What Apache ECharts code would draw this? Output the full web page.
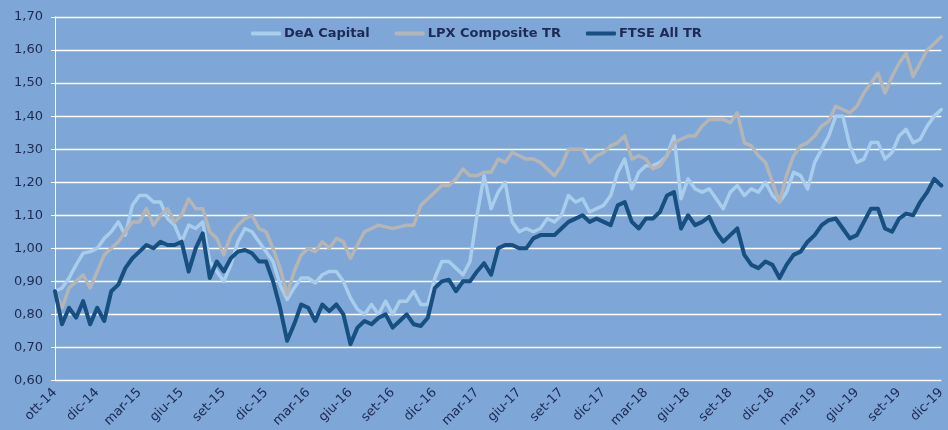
<!DOCTYPE html>
<html>
<head>
<meta charset="utf-8">
<script src="https://cdn.jsdelivr.net/npm/echarts@6/dist/echarts.min.js"></script>
<style>
  html, body { margin: 0; padding: 0; background: #7EA6D6; }
  #chart { width: 948px; height: 430px; }
</style>
</head>
<body>
<div id="chart"></div>
<script>
// etichette dell'asse x (una ogni 6 punti, cioè un trimestre)
const tickLabels = ['ott-14', 'dic-14', 'mar-15', 'giu-15', 'set-15', 'dic-15', 'mar-16', 'giu-16',
  'set-16', 'dic-16', 'mar-17', 'giu-17', 'set-17', 'dic-17', 'mar-18', 'giu-18', 'set-18',
  'dic-18', 'mar-19', 'giu-19', 'set-19', 'dic-19'];
const pointsPerTick = 6;

const seriesNames = ['DeA Capital', 'LPX Composite TR', 'FTSE All TR'];

// valori, un punto ogni ~2 settimane
const deaCapital = [
  0.87, 0.88, 0.91, 0.95, 0.985, 0.99, 1.00, 1.03, 1.05, 1.08, 1.04, 1.13,
  1.16, 1.16, 1.14, 1.14, 1.09, 1.07, 1.02, 1.07, 1.06, 1.08, 0.96, 0.93,
  0.90, 0.95, 1.02, 1.06, 1.05, 1.02, 0.99, 0.96, 0.89, 0.845, 0.88, 0.91,
  0.91, 0.895, 0.92, 0.93, 0.93, 0.90, 0.85, 0.815, 0.80, 0.83, 0.80, 0.84,
  0.80, 0.84, 0.84, 0.87, 0.83, 0.83, 0.91, 0.96, 0.96, 0.94, 0.92, 0.96,
  1.10, 1.22, 1.12, 1.17, 1.20, 1.08, 1.05, 1.06, 1.05, 1.06, 1.09, 1.08,
  1.10, 1.16, 1.14, 1.15, 1.11, 1.12, 1.13, 1.16, 1.23, 1.27, 1.18, 1.23,
  1.25, 1.25, 1.26, 1.28, 1.34, 1.15, 1.21, 1.18, 1.17, 1.18, 1.15, 1.12,
  1.17, 1.19, 1.16, 1.18, 1.17, 1.20, 1.16, 1.14, 1.17, 1.23, 1.22, 1.18,
  1.26, 1.30, 1.34, 1.40, 1.40, 1.31, 1.26, 1.27, 1.32, 1.32, 1.27, 1.29,
  1.34, 1.36, 1.32, 1.33, 1.37, 1.40, 1.42
];
const lpxComposite = [
  0.87, 0.82, 0.88, 0.90, 0.92, 0.88, 0.93, 0.98, 1.00, 1.02, 1.05, 1.08,
  1.08, 1.12, 1.07, 1.10, 1.12, 1.08, 1.10, 1.15, 1.12, 1.12, 1.05, 1.03,
  0.98, 1.04, 1.07, 1.09, 1.10, 1.06, 1.05, 1.00, 0.94, 0.86, 0.93, 0.98,
  1.00, 0.99, 1.02, 1.00, 1.03, 1.02, 0.97, 1.01, 1.05, 1.06, 1.07, 1.065,
  1.06, 1.065, 1.07, 1.07, 1.13, 1.15, 1.17, 1.19, 1.19, 1.21, 1.24, 1.22,
  1.22, 1.23, 1.23, 1.27, 1.26, 1.29, 1.28, 1.27, 1.27, 1.26, 1.24, 1.22,
  1.25, 1.30, 1.30, 1.30, 1.26, 1.28, 1.29, 1.31, 1.32, 1.34, 1.27, 1.28,
  1.27, 1.24, 1.25, 1.28, 1.32, 1.33, 1.34, 1.34, 1.37, 1.39, 1.39, 1.39,
  1.38, 1.41, 1.32, 1.31, 1.28, 1.26, 1.20, 1.14, 1.22, 1.28, 1.31, 1.32,
  1.34, 1.37, 1.385, 1.43, 1.42, 1.41, 1.43, 1.47, 1.50, 1.53, 1.47, 1.52,
  1.56, 1.59, 1.52, 1.56, 1.60, 1.62, 1.64
];
const ftseAll = [
  0.87, 0.77, 0.82, 0.79, 0.84, 0.77, 0.82, 0.78, 0.87, 0.89, 0.94, 0.97,
  0.99, 1.01, 1.00, 1.02, 1.01, 1.01, 1.02, 0.93, 1.00, 1.045, 0.91, 0.96,
  0.93, 0.97, 0.99, 0.995, 0.985, 0.96, 0.96, 0.90, 0.82, 0.72, 0.77, 0.83,
  0.82, 0.78, 0.83, 0.81, 0.83, 0.80, 0.71, 0.76, 0.78, 0.77, 0.79, 0.80,
  0.76, 0.78, 0.80, 0.77, 0.765, 0.79, 0.88, 0.90, 0.905, 0.87, 0.90, 0.90,
  0.93, 0.955, 0.92, 1.00, 1.01, 1.01, 1.00, 1.00, 1.03, 1.04, 1.04, 1.04,
  1.06, 1.08, 1.09, 1.10, 1.08, 1.09, 1.08, 1.07, 1.13, 1.14, 1.08, 1.06,
  1.09, 1.09, 1.11, 1.16, 1.17, 1.06, 1.10, 1.07, 1.08, 1.095, 1.05, 1.02,
  1.04, 1.06, 0.98, 0.95, 0.94, 0.96, 0.95, 0.91, 0.95, 0.98, 0.99, 1.02,
  1.04, 1.07, 1.085, 1.09, 1.06, 1.03, 1.04, 1.08, 1.12, 1.12, 1.06, 1.05,
  1.09, 1.105, 1.10, 1.14, 1.17, 1.21, 1.19
];

const lineColors = ['#A9CDEC', '#B5B5B5', '#174F80'];
const textColor = '#1C2A55';

const categories = deaCapital.map((v, i) => i);

const chart = echarts.init(document.getElementById('chart'));

const option = {
  backgroundColor: '#7EA6D6',
  animation: false,
  textStyle: { fontFamily: 'DejaVu Sans' },
  legend: {
    left: 246,
    top: 22,
    icon: 'roundRect',
    itemWidth: 30,
    itemHeight: 4,
    itemGap: 25,
    data: seriesNames,
    textStyle: { color: textColor, fontSize: 13, fontWeight: 'bold', fontFamily: 'DejaVu Sans', padding: [0, 0, 0, -2] }
  },
  grid: { left: 55, right: 2, top: 17, bottom: 48 },
  xAxis: {
    type: 'category',
    data: categories,
    boundaryGap: false,
    axisLine: { show: false },
    axisTick: { show: false },
    splitLine: { show: false },
    axisLabel: {
      interval: pointsPerTick - 1,
      rotate: 45,
      margin: 10,
      color: textColor,
      fontSize: 13,
      fontFamily: 'DejaVu Sans',
      formatter: (v, idx) => tickLabels[idx / pointsPerTick] || ''
    }
  },
  yAxis: {
    type: 'value',
    min: 0.6,
    max: 1.7,
    interval: 0.1,
    axisLine: { show: true, lineStyle: { color: '#FFFFFF', width: 1 } },
    axisTick: { show: true, length: 4, lineStyle: { color: '#FFFFFF' } },
    splitLine: { lineStyle: { color: '#FFFFFF', width: 1.3 } },
    axisLabel: {
      margin: 12,
      color: textColor,
      fontSize: 13,
      fontFamily: 'DejaVu Sans',
      formatter: v => v.toFixed(2).replace('.', ',')
    }
  },
  series: [
    { name: seriesNames[0], type: 'line', data: deaCapital, symbol: 'none',
      lineStyle: { color: lineColors[0], width: 3.5, cap: 'round', join: 'round' }, itemStyle: { color: lineColors[0] } },
    { name: seriesNames[1], type: 'line', data: lpxComposite, symbol: 'none',
      lineStyle: { color: lineColors[1], width: 3.5, cap: 'round', join: 'round' }, itemStyle: { color: lineColors[1] } },
    { name: seriesNames[2], type: 'line', data: ftseAll, symbol: 'none',
      lineStyle: { color: lineColors[2], width: 4, cap: 'round', join: 'round' }, itemStyle: { color: lineColors[2] } }
  ]
};

chart.setOption(option);
window.addEventListener('resize', () => chart.resize());
</script>
</body>
</html>
